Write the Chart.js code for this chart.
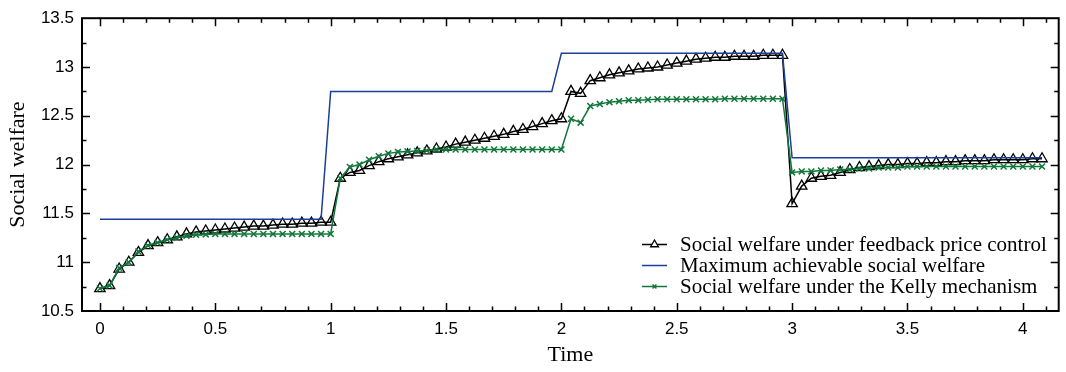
<!DOCTYPE html>
<html><head><meta charset="utf-8">
<script src="https://cdn.jsdelivr.net/npm/chart.js@4/dist/chart.umd.min.js"></script>
<style>html,body{margin:0;padding:0;background:#fff;}#wrap{width:1066px;height:372px;}</style>
</head><body><div id="wrap"><canvas id="c" width="1066" height="372"></canvas></div>
<script>
const STEP = 1 / 24;
const times = Array.from({length: 99}, (_, i) => i * STEP);

const feedbackWelfare = [
  10.73, 10.76, 10.93, 11.00, 11.10, 11.17, 11.20, 11.23, 11.26, 11.29, 11.31, 11.32, 11.33,
  11.34, 11.35, 11.36, 11.37, 11.37, 11.38, 11.39, 11.39, 11.40, 11.40, 11.41, 11.41,
  11.86, 11.92, 11.94, 11.99, 12.03, 12.06, 12.08, 12.10, 12.12, 12.14, 12.16, 12.18,
  12.21, 12.23, 12.25, 12.27, 12.29, 12.31, 12.34, 12.36, 12.39, 12.42, 12.45, 12.47,
  12.75, 12.73, 12.86, 12.89, 12.92, 12.94, 12.96, 12.98, 12.99, 13.00, 13.02, 13.04,
  13.06, 13.08, 13.09, 13.10, 13.10, 13.11, 13.11, 13.11, 13.12, 13.12, 13.12,
  11.60, 11.78, 11.86, 11.88, 11.89, 11.92, 11.95, 11.97, 11.98, 11.99, 12.00, 12.00,
  12.01, 12.01, 12.02, 12.02, 12.03, 12.03, 12.04, 12.04, 12.04, 12.05, 12.05, 12.05,
  12.05, 12.06, 12.06
];

const maxWelfare = [
  11.44, 11.44, 11.44, 11.44, 11.44, 11.44, 11.44, 11.44, 11.44, 11.44, 11.44, 11.44,
  11.44, 11.44, 11.44, 11.44, 11.44, 11.44, 11.44, 11.44, 11.44, 11.44, 11.44, 11.44,
  12.75, 12.75, 12.75, 12.75, 12.75, 12.75, 12.75, 12.75, 12.75, 12.75, 12.75, 12.75,
  12.75, 12.75, 12.75, 12.75, 12.75, 12.75, 12.75, 12.75, 12.75, 12.75, 12.75, 12.75,
  13.14, 13.14, 13.14, 13.14, 13.14, 13.14, 13.14, 13.14, 13.14, 13.14, 13.14, 13.14,
  13.14, 13.14, 13.14, 13.14, 13.14, 13.14, 13.14, 13.14, 13.14, 13.14, 13.14, 13.14,
  12.07, 12.07, 12.07, 12.07, 12.07, 12.07, 12.07, 12.07, 12.07, 12.07, 12.07, 12.07,
  12.07, 12.07, 12.07, 12.07, 12.07, 12.07, 12.07, 12.07, 12.07, 12.07, 12.07, 12.07,
  12.07, 12.07, 12.07
];

const kellyWelfare = [
  10.73, 10.76, 10.94, 11.00, 11.11, 11.17, 11.20, 11.23, 11.25, 11.27, 11.28, 11.285,
  11.29, 11.29, 11.29, 11.29, 11.29, 11.29, 11.29, 11.29, 11.29, 11.29, 11.29, 11.29, 11.29,
  11.86, 11.975, 12.00, 12.05, 12.085, 12.115, 12.13, 12.135, 12.14, 12.145,
  12.155, 12.155, 12.155, 12.155, 12.155, 12.155, 12.155, 12.155, 12.155, 12.155, 12.155, 12.155, 12.155, 12.155,
  12.47, 12.43, 12.60, 12.62, 12.64, 12.65, 12.66, 12.66, 12.665,
  12.67, 12.67, 12.67, 12.67, 12.67, 12.67, 12.67, 12.675, 12.675, 12.675, 12.675, 12.675, 12.675, 12.675,
  11.92, 11.93, 11.93, 11.94, 11.94, 11.95, 11.95, 11.96, 11.96, 11.97, 11.97, 11.97,
  11.98, 11.98, 11.98, 11.98, 11.98, 11.98, 11.98, 11.98, 11.98, 11.98, 11.98, 11.98, 11.98, 11.98, 11.98
];

const seriesLabels = [
  'Social welfare under feedback price control',
  'Maximum achievable social welfare',
  'Social welfare under the Kelly mechanism'
];

const BLACK = '#000000', BLUE = '#1c3f98', GREEN = '#11773a';
const toXY = (arr) => arr.map((v, i) => ({x: times[i], y: v}));
const fmt = (v) => String(Math.round(v * 100) / 100);

const frame = {
  id: 'frame',
  afterDraw(chart) {
    const {ctx, chartArea: a, scales: {x, y}} = chart;
    ctx.save();
    ctx.strokeStyle = '#000';
    ctx.lineWidth = 1.5;
    ctx.beginPath();
    for (let i = 0; i <= 41; i++) {
      const v = i / 10;
      const px = Math.round(x.getPixelForValue(v)) + 0.5;
      const len = (i % 5 === 0) ? 8 : 4.5;
      ctx.moveTo(px, a.bottom); ctx.lineTo(px, a.bottom - len);
      ctx.moveTo(px, a.top); ctx.lineTo(px, a.top + len);
    }
    for (let i = 1; i < 12; i++) {
      const v = 10.5 + i * 0.25;
      const py = Math.round(y.getPixelForValue(v)) + 0.5;
      const len = (i % 2 === 0) ? 8 : 4.5;
      ctx.moveTo(a.left, py); ctx.lineTo(a.left + len, py);
      ctx.moveTo(a.right, py); ctx.lineTo(a.right - len, py);
    }
    ctx.stroke();
    ctx.lineWidth = 2;
    ctx.strokeRect(a.left, a.top, a.right - a.left, a.bottom - a.top);

    // legend
    const rows = [251, 272, 293];
    const x0 = 642, x1 = 667, xm = 654.5, tx = 680;
    chart.data.datasets.forEach((ds, i) => {
      const ly = rows[i] - 6.5;
      ctx.strokeStyle = ds.borderColor;
      ctx.lineWidth = 1.5;
      ctx.beginPath(); ctx.moveTo(x0, ly); ctx.lineTo(x1, ly); ctx.stroke();
      if (ds.pointStyle && ds.pointRadius > 0) {
        ctx.fillStyle = 'rgba(255,255,255,1)';
        ctx.strokeStyle = ds.borderColor;
        ctx.lineWidth = ds.pointBorderWidth;
        Chart.helpers.drawPoint(ctx, {
          pointStyle: ds.pointStyle, radius: ds.pointRadius - 1.5, rotation: 0,
          borderWidth: ds.pointBorderWidth
        }, xm, ly);
      }
      ctx.fillStyle = '#000';
      ctx.font = '21px "Liberation Serif"';
      ctx.textBaseline = 'alphabetic';
      ctx.textAlign = 'left';
      ctx.fillText(ds.label, tx, rows[i]);
    });
    ctx.restore();
  }
};

new Chart(document.getElementById('c'), {
  type: 'line',
  data: {
    datasets: [
      {label: seriesLabels[0], data: toXY(feedbackWelfare), borderColor: BLACK, backgroundColor: 'rgba(0,0,0,0)',
       borderWidth: 1.5, pointStyle: 'triangle', pointRadius: 6, pointBorderWidth: 1.3,
       pointBorderColor: BLACK, pointBackgroundColor: 'rgba(0,0,0,0)', tension: 0, order: 2},
      {label: seriesLabels[1], data: toXY(maxWelfare), borderColor: BLUE, backgroundColor: BLUE,
       borderWidth: 1.5, pointRadius: 0, tension: 0, order: 1},
      {label: seriesLabels[2], data: toXY(kellyWelfare), borderColor: GREEN, backgroundColor: GREEN,
       borderWidth: 1.5, pointStyle: 'crossRot', pointRadius: 4.2, pointBorderWidth: 1.5,
       pointBorderColor: GREEN, tension: 0, order: 0}
    ]
  },
  options: {
    responsive: false,
    animation: false,
    devicePixelRatio: 1,
    layout: {padding: {left: 0, top: 15, right: 4, bottom: 0}},
    plugins: {legend: {display: false}, tooltip: {enabled: false}},
    scales: {
      x: {
        type: 'linear', min: -0.0778, max: 4.1555,
        grid: {display: false, drawTicks: false}, border: {display: false},
        ticks: {stepSize: 0.5, includeBounds: false, color: '#000', padding: 8, maxRotation: 0, autoSkip: false,
                font: {family: '"Liberation Sans"', size: 17}, callback: fmt},
        title: {display: true, text: 'Time', color: '#000', font: {family: '"Liberation Serif"', size: 22},
                padding: {top: 0, bottom: 4}},
        afterFit: (s) => { s.height = 61; }
      },
      y: {
        type: 'linear', min: 10.5, max: 13.5,
        grid: {display: false, drawTicks: false}, border: {display: false},
        ticks: {stepSize: 0.5, includeBounds: false, color: '#000', padding: 8,
                font: {family: '"Liberation Sans"', size: 17}, callback: fmt},
        title: {display: true, text: 'Social welfare', color: '#000', font: {family: '"Liberation Serif"', size: 22},
                padding: {top: 5, bottom: 0}},
        afterFit: (s) => { s.width = 82; }
      }
    }
  },
  plugins: [frame]
});
</script></body></html>
